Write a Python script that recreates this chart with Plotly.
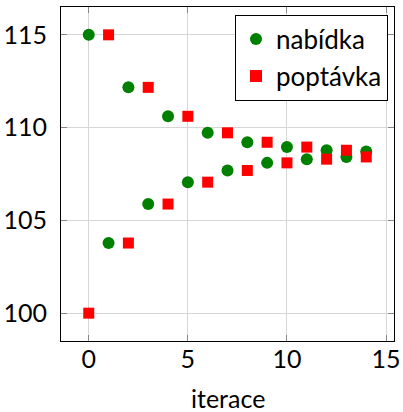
import plotly.graph_objects as go

iterace = list(range(15))
nabidka = [115, 103.78, 112.17, 105.88, 110.61, 107.06, 109.72, 107.69, 109.21, 108.10, 108.95, 108.30, 108.78, 108.42, 108.71]
poptavka = [100, 115, 103.78, 112.17, 105.88, 110.61, 107.06, 109.72, 107.69, 109.21, 108.10, 108.95, 108.30, 108.78, 108.42]

FONT = "Lato"

fig = go.Figure()
fig.add_trace(go.Scatter(x=iterace, y=nabidka, mode="markers", name="nabídka",
                         marker=dict(symbol="circle", size=12, color="#008000", line=dict(width=0))))
fig.add_trace(go.Scatter(x=iterace, y=poptavka, mode="markers", name="poptávka",
                         marker=dict(symbol="square", size=11, color="#ff0000", line=dict(width=0))))

axis_common = dict(showgrid=True, gridcolor="#d6d6d6", gridwidth=1,
                   showline=True, linecolor="black", linewidth=1, mirror="ticks",
                   ticks="inside", ticklen=6, tickcolor="#888888", tickwidth=1,
                   zeroline=False, automargin=False,
                   tickfont=dict(size=25, color="black", family=FONT))

fig.update_xaxes(range=[-1.4, 15.4], tickvals=[0, 5, 10, 15], ticklabelstandoff=-4,
                 **axis_common)
fig.update_yaxes(range=[98.5, 116.5], tickvals=[100, 105, 110, 115], ticklabelstandoff=8,
                 **axis_common)

fig.add_annotation(text="iterace", xref="paper", yref="paper", x=0.5, y=-0.17,
                   xanchor="center", yanchor="middle", showarrow=False,
                   font=dict(size=25, color="black", family=FONT))

fig.update_layout(
    width=403, height=412,
    margin=dict(l=61, r=9, t=7, b=71),
    plot_bgcolor="white", paper_bgcolor="white",
    font=dict(family=FONT, color="black"),
    showlegend=True,
    legend=dict(x=0.982, y=0.977, xanchor="right", yanchor="top",
                bordercolor="black", borderwidth=1, bgcolor="white",
                font=dict(size=26, family=FONT, color="black"),
                tracegroupgap=0, itemsizing="constant", itemwidth=30),
)

fig.write_html("out.html", config={"displayModeBar": False},
               post_script="document.body.style.margin='0';")
